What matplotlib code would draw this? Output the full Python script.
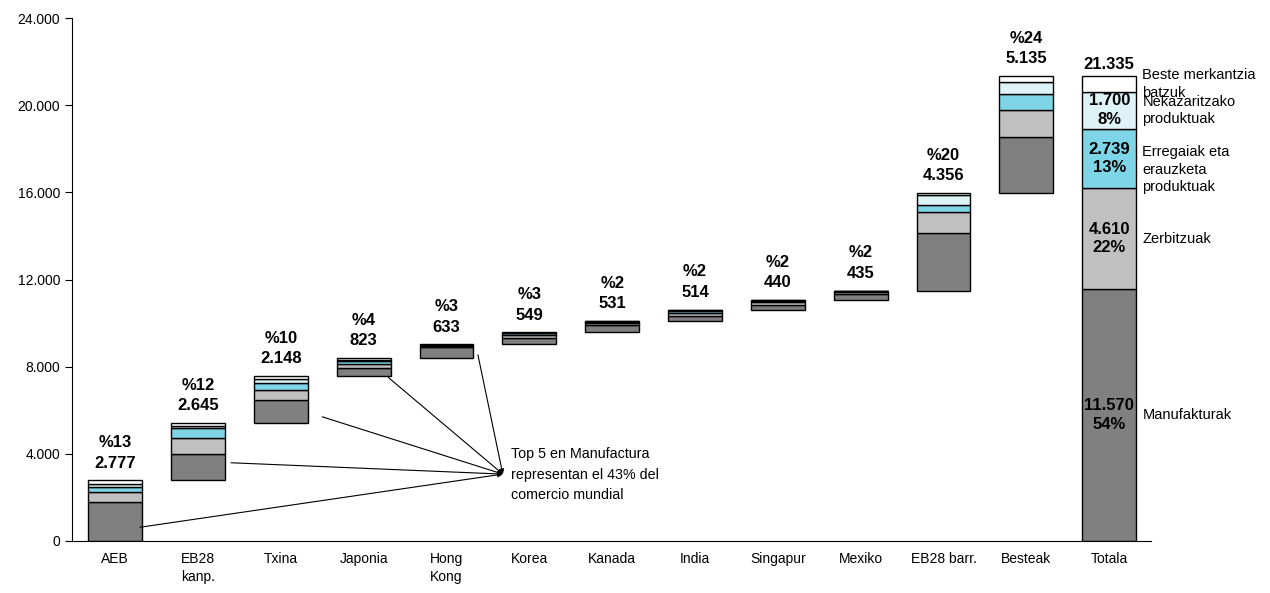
import matplotlib
matplotlib.use("Agg")
import matplotlib.pyplot as plt
import numpy as np

plt.rcParams['font.family'] = ['Liberation Sans', 'DejaVu Sans']

categories = ["AEB", "EB28\nkanp.", "Txina", "Japonia", "Hong\nKong", "Korea", "Kanada",
              "India", "Singapur", "Mexiko", "EB28 barr.", "Besteak", "Totala"]

# osagaiak (mila milioi $)
manuf = [1790, 1215, 1045, 350, 490, 290, 350, 230, 210, 290, 2662, 2585, 11570]
zerb = [440, 720, 460, 185, 75, 115, 100, 135, 150, 70, 964, 1219, 4610]
erreg = [250, 460, 330, 140, 30, 95, 40, 95, 55, 40, 307, 763, 2739]
nekaz = [130, 120, 160, 80, 25, 30, 30, 35, 15, 25, 445, 530, 1700]
beste = [167, 130, 153, 68, 13, 19, 11, 19, 10, 10, 92, 273, 716]

# goiko etiketak
pct_labels = [13, 12, 10, 4, 3, 3, 2, 2, 2, 2, 20, 24]
value_labels = [2777, 2645, 2148, 823, 633, 549, 531, 514, 440, 435, 4356, 5135]
total_label = 21335
total_pcts = [54, 22, 13, 8]

series_names = ["Manufakturak", "Zerbitzuak", "Erregaiak eta\nerauzketa\nproduktuak",
                "Nekazaritzako\nproduktuak", "Beste merkantzia\nbatzuk"]
colors = ["#808080", "#c0c0c0", "#7fd5e8", "#ddf3f8", "#ffffff"]

# marra-amaierak (Top 5 oharra)
note_starts = [(0.30, 630), (1.40, 3590), (2.50, 5700), (3.30, 7500), (4.38, 8540)]
note_tip = (4.68, 3070)


def fmt(v):
    return f"{v:,}".replace(",", ".")


series = [manuf, zerb, erreg, nekaz, beste]
n = len(categories)
x = np.arange(n)
totals = np.sum(np.array(series), axis=0)
bottoms = np.concatenate([[0], np.cumsum(totals[:-2])])
bottoms = np.append(bottoms, 0)

fig = plt.figure(figsize=(12.7, 5.93), dpi=100)
ax = fig.add_axes([0.0567, 0.0877, 0.8493, 0.8819])

base = bottoms.astype(float).copy()
for vals, c in zip(series, colors):
    ax.bar(x, vals, bottom=base, width=0.65, color=c, edgecolor="black", linewidth=1.0, zorder=2)
    base = base + np.array(vals)

# goiko etiketak
for i in range(n - 1):
    ax.annotate(f"%{pct_labels[i]}\n{fmt(value_labels[i])}", (x[i], base[i]),
                xytext=(0, 7), textcoords="offset points", ha="center", va="bottom",
                fontsize=12, fontweight="bold", linespacing=1.45)
ax.annotate(fmt(total_label), (x[-1], base[-1]), xytext=(0, 3), textcoords="offset points",
            ha="center", va="bottom", fontsize=12, fontweight="bold")

# Totala barruko etiketak eta izenak
name_dy = [0, 0, -8, 0, 0]
b = 0
for k, vals in enumerate(series):
    v = vals[-1]
    mid = b + v / 2
    if k < 4:
        ax.text(x[-1], mid, f"{fmt(v)}\n{total_pcts[k]}%", ha="center", va="center",
                fontsize=12, fontweight="bold", linespacing=1.3)
    ax.annotate(series_names[k], (x[-1] + 0.40, mid), xytext=(0, name_dy[k]),
                textcoords="offset points", ha="left", va="center", fontsize=10.5,
                linespacing=1.3)
    b += v

# Top 5 oharra
for sx, sy in note_starts:
    ax.annotate("", xy=note_tip, xytext=(sx, sy),
                arrowprops=dict(arrowstyle="-|>", color="black", lw=0.8, mutation_scale=7,
                                shrinkA=0, shrinkB=0))
ax.text(note_tip[0] + 0.10, note_tip[1] - 30, "Top 5 en Manufactura\nrepresentan el 43% del\ncomercio mundial",
        ha="left", va="center", fontsize=10.3, linespacing=1.6)

ax.set_xlim(-0.52, 12.5)
ax.set_ylim(0, 24000)
ax.set_yticks(np.arange(0, 24001, 4000))
ax.set_yticklabels([fmt(v) for v in range(0, 24001, 4000)], fontsize=10)
ax.set_xticks(x)
ax.set_xticklabels(categories, fontsize=10, linespacing=1.35)
ax.tick_params(axis="x", length=0, pad=8)
ax.tick_params(axis="y", direction="out", length=5)
ax.spines["top"].set_visible(False)
ax.spines["right"].set_visible(False)

plt.savefig("out.png", dpi=100)
